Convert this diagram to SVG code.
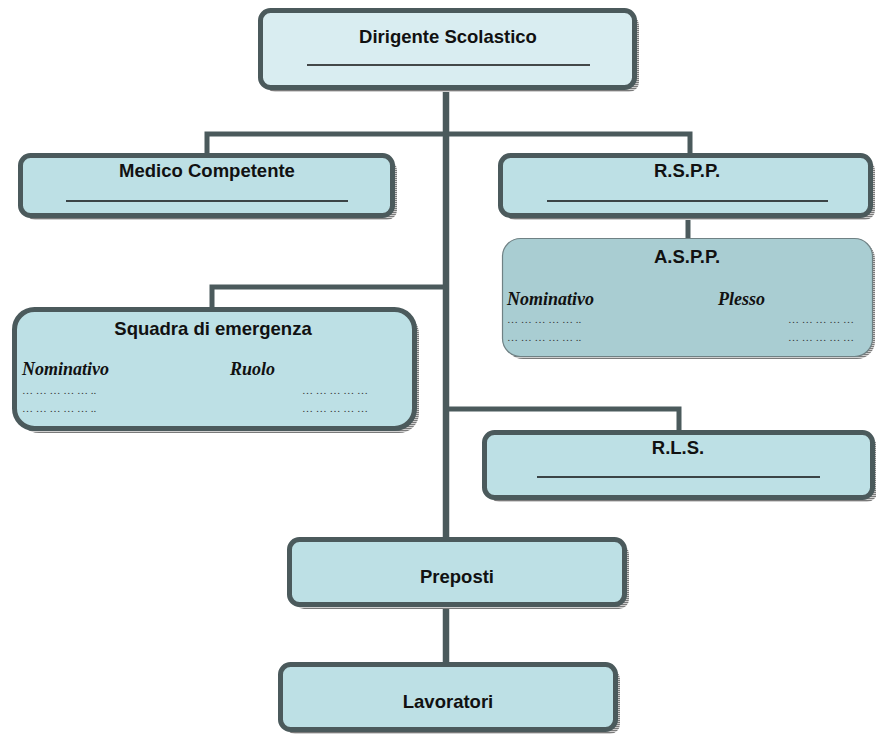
<svg xmlns="http://www.w3.org/2000/svg" width="876" height="736" viewBox="0 0 876 736">
<defs>
<pattern id="hatch" width="2" height="2" patternUnits="userSpaceOnUse">
<rect width="2" height="2" fill="#d0d0d0"/>
<rect width="2" height="1" fill="#7a7a7a"/>
</pattern>
<style>
.box{fill:#bde0e5;stroke:#4b5a5c;stroke-width:5}
.top{fill:#d9edf1}
.thin{fill:#a9cdd2;stroke:#6f8184;stroke-width:1.2}
.sh{fill:url(#hatch)}
.t{font-family:"Liberation Sans",Arial,sans-serif;font-weight:bold;font-size:18.5px;fill:#111;text-anchor:middle}
.it{font-family:"Liberation Serif","Times New Roman",serif;font-weight:bold;font-style:italic;font-size:18px;fill:#111}
.dot{font-family:"Liberation Serif","Times New Roman",serif;font-size:11px;fill:#333}
.ul{stroke:#111;stroke-width:1.6}
.c{fill:none;stroke:#4b5a5c;stroke-width:5}
.trunk{stroke-width:6.5}
</style>
</defs>
<rect width="876" height="736" fill="#fff"/>

<g id="connectors">
<line class="c trunk" x1="446" y1="88" x2="446" y2="540"/>
<polyline class="c" points="207,156 207,134 690,134 690,156"/>
<polyline class="c" points="212,310 212,287 446,287"/>
<polyline class="c" points="446,409 679,409 679,433"/>
<line class="c" x1="688" y1="216" x2="688" y2="239"/>
<line class="c trunk" x1="446" y1="605" x2="446" y2="665"/>
</g>

<g id="dirigente">
<rect class="sh" x="265" y="15" width="374" height="77" rx="10"/>
<rect class="box top" x="260.5" y="10.5" width="374" height="77" rx="10"/>
<text class="t" x="448" y="43">Dirigente Scolastico</text>
<line class="ul" x1="307" y1="65" x2="590" y2="65"/>
</g>

<g id="medico">
<rect class="sh" x="25" y="160" width="372" height="60" rx="10"/>
<rect class="box" x="20.5" y="155.5" width="372" height="60" rx="10"/>
<text class="t" x="207" y="177">Medico Competente</text>
<line class="ul" x1="66" y1="201" x2="348" y2="201"/>
</g>

<g id="rspp">
<rect class="sh" x="505" y="160" width="370" height="60" rx="10"/>
<rect class="box" x="500.5" y="155.5" width="370" height="60" rx="10"/>
<text class="t" x="687" y="177">R.S.P.P.</text>
<line class="ul" x1="547" y1="201" x2="828" y2="201"/>
</g>

<g id="aspp">
<rect class="sh" x="505" y="241" width="370" height="118" rx="18"/>
<rect class="thin" x="502.5" y="238.5" width="370" height="118" rx="18"/>
<text class="t" x="687" y="263">A.S.P.P.</text>
<text class="it" x="507" y="305">Nominativo</text>
<text class="it" x="718" y="305">Plesso</text>
<text class="dot" x="507" y="323">… … … … … ..</text>
<text class="dot" x="507" y="341">… … … … … ..</text>
<text class="dot" x="788" y="323">… … … … …</text>
<text class="dot" x="788" y="341">… … … … …</text>
</g>

<g id="squadra">
<rect class="sh" x="19" y="314" width="400" height="119" rx="20"/>
<rect class="box" x="14.5" y="309.5" width="400" height="119" rx="20"/>
<text class="t" x="213" y="335">Squadra di emergenza</text>
<text class="it" x="22" y="375">Nominativo</text>
<text class="it" x="230" y="375">Ruolo</text>
<text class="dot" x="22" y="394">… … … … … ..</text>
<text class="dot" x="22" y="412">… … … … … ..</text>
<text class="dot" x="302" y="394">… … … … …</text>
<text class="dot" x="302" y="412">… … … … …</text>
</g>

<g id="rls">
<rect class="sh" x="489" y="437" width="388" height="65" rx="10"/>
<rect class="box" x="484.5" y="432.5" width="388" height="65" rx="10"/>
<text class="t" x="678" y="454">R.L.S.</text>
<line class="ul" x1="537" y1="477" x2="820" y2="477"/>
</g>

<g id="preposti">
<rect class="sh" x="294" y="544" width="335" height="65" rx="10"/>
<rect class="box" x="289.5" y="539.5" width="335" height="65" rx="10"/>
<text class="t" x="457" y="583">Preposti</text>
</g>

<g id="lavoratori">
<rect class="sh" x="285" y="669" width="335" height="65" rx="10"/>
<rect class="box" x="280.5" y="664.5" width="335" height="65" rx="10"/>
<text class="t" x="448" y="708">Lavoratori</text>
</g>
</svg>
